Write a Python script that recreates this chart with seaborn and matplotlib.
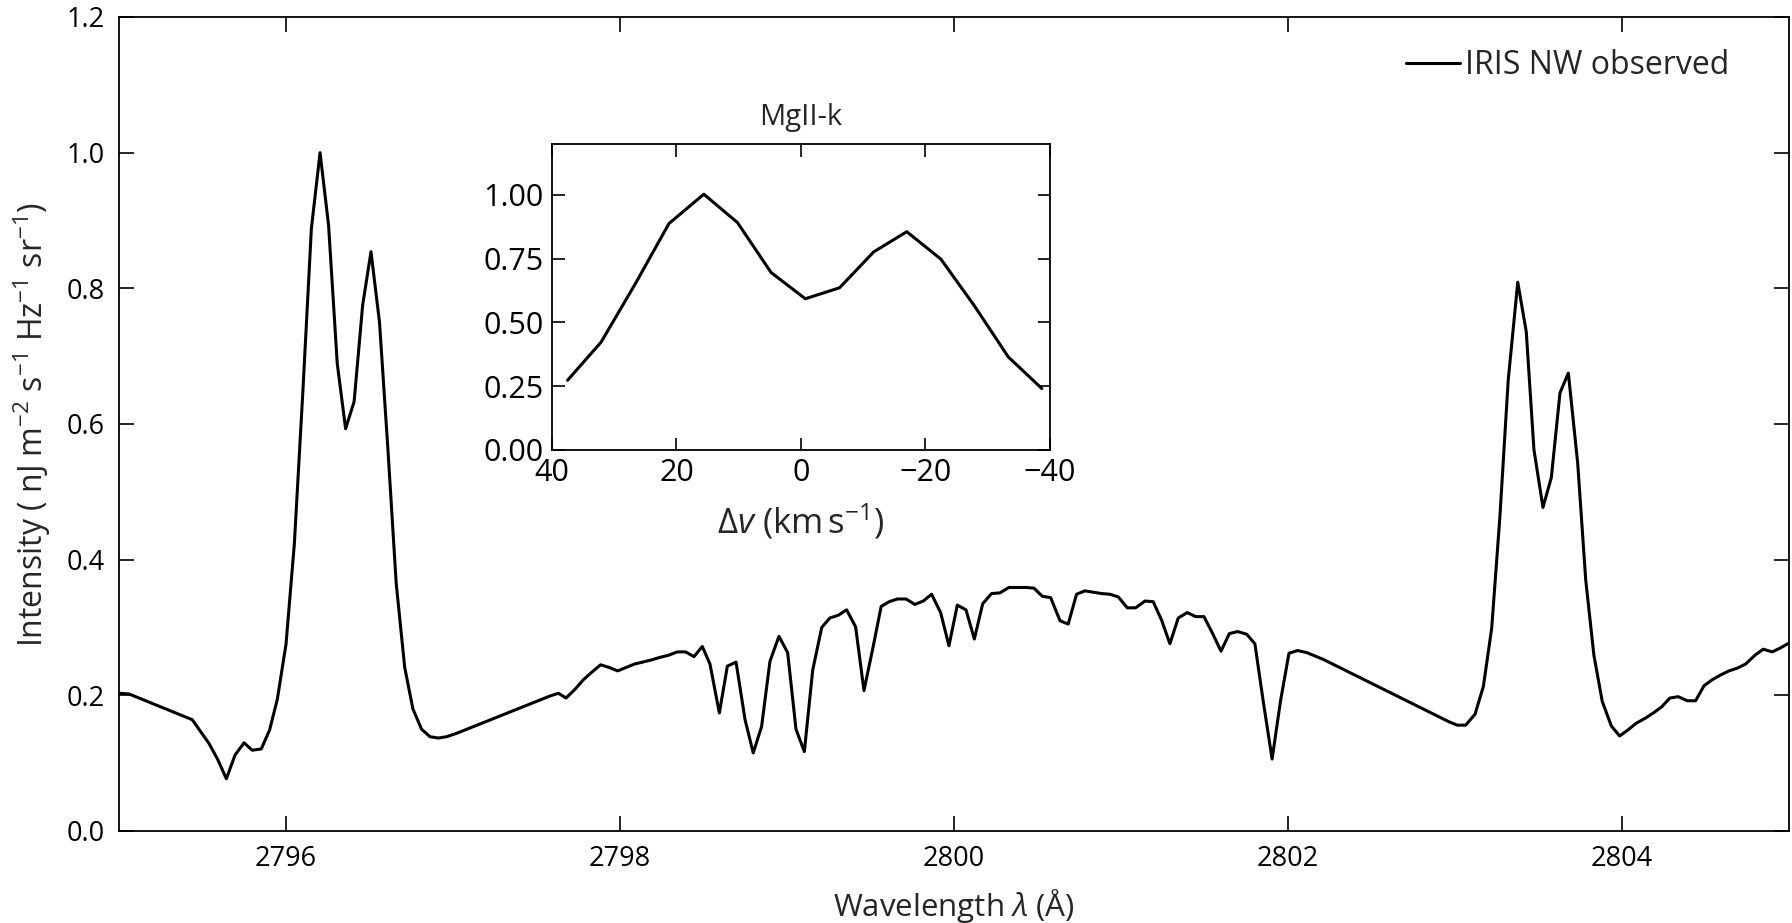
import numpy as np
import pandas as pd
import matplotlib
matplotlib.use("Agg")
import matplotlib.pyplot as plt
import seaborn as sns

# ---- main spectrum (wavelength in Angstrom, intensity) ----
wavelength = [
    2795.000, 2795.060, 2795.439, 2795.539, 2795.590, 2795.643, 2795.695, 2795.749,
    2795.798, 2795.852, 2795.902, 2795.948, 2796.000, 2796.050, 2796.102, 2796.152,
    2796.204, 2796.255, 2796.307, 2796.357, 2796.408, 2796.459, 2796.509, 2796.560,
    2796.610, 2796.660, 2796.711, 2796.760, 2796.812, 2796.862, 2796.912, 2796.962,
    2797.022, 2797.581, 2797.631, 2797.677, 2797.731, 2797.781, 2797.831, 2797.884,
    2797.936, 2797.986, 2798.036, 2798.086, 2798.136, 2798.186, 2798.240, 2798.290,
    2798.343, 2798.393, 2798.443, 2798.493, 2798.539, 2798.595, 2798.643, 2798.695,
    2798.749, 2798.798, 2798.848, 2798.898, 2798.952, 2799.004, 2799.054, 2799.104,
    2799.154, 2799.208, 2799.257, 2799.307, 2799.357, 2799.411, 2799.461, 2799.513,
    2799.564, 2799.612, 2799.661, 2799.713, 2799.766, 2799.816, 2799.866, 2799.920,
    2799.970, 2800.020, 2800.072, 2800.122, 2800.172, 2800.225, 2800.275, 2800.329,
    2800.379, 2800.431, 2800.479, 2800.529, 2800.579, 2800.635, 2800.684, 2800.734,
    2800.784, 2800.834, 2800.884, 2800.934, 2800.984, 2801.038, 2801.088, 2801.144,
    2801.193, 2801.243, 2801.293, 2801.343, 2801.397, 2801.447, 2801.497, 2801.549,
    2801.599, 2801.649, 2801.699, 2801.753, 2801.802, 2801.852, 2801.905, 2801.955,
    2802.006, 2802.058, 2802.112, 2802.162, 2802.211, 2802.964, 2803.014, 2803.064,
    2803.120, 2803.170, 2803.220, 2803.269, 2803.319, 2803.376, 2803.427, 2803.473,
    2803.527, 2803.577, 2803.629, 2803.679, 2803.735, 2803.783, 2803.832, 2803.882,
    2803.936, 2803.986, 2804.036, 2804.086, 2804.138, 2804.188, 2804.238, 2804.287,
    2804.337, 2804.391, 2804.441, 2804.491, 2804.541, 2804.591, 2804.641, 2804.690,
    2804.740, 2804.796, 2804.846, 2804.900, 2804.950, 2805.000,
]
intensity = [
    0.203, 0.202, 0.164, 0.129, 0.106, 0.077, 0.112, 0.130,
    0.119, 0.121, 0.149, 0.194, 0.275, 0.423, 0.652, 0.888,
    1.000, 0.893, 0.689, 0.593, 0.633, 0.775, 0.854, 0.750,
    0.564, 0.365, 0.241, 0.180, 0.150, 0.139, 0.137, 0.139,
    0.144, 0.199, 0.203, 0.196, 0.209, 0.223, 0.234, 0.245,
    0.241, 0.236, 0.241, 0.246, 0.249, 0.252, 0.256, 0.259,
    0.264, 0.264, 0.257, 0.272, 0.246, 0.174, 0.243, 0.249,
    0.164, 0.115, 0.154, 0.250, 0.287, 0.263, 0.150, 0.117,
    0.237, 0.300, 0.314, 0.318, 0.326, 0.301, 0.207, 0.268,
    0.331, 0.338, 0.342, 0.342, 0.334, 0.339, 0.349, 0.322,
    0.273, 0.333, 0.326, 0.283, 0.335, 0.350, 0.351, 0.359,
    0.359, 0.359, 0.358, 0.346, 0.344, 0.310, 0.305, 0.349,
    0.354, 0.352, 0.350, 0.349, 0.345, 0.329, 0.329, 0.339,
    0.338, 0.311, 0.276, 0.314, 0.322, 0.316, 0.316, 0.291,
    0.265, 0.291, 0.294, 0.290, 0.276, 0.191, 0.106, 0.191,
    0.262, 0.266, 0.263, 0.258, 0.253, 0.161, 0.156, 0.156,
    0.172, 0.213, 0.299, 0.463, 0.665, 0.809, 0.736, 0.562,
    0.477, 0.521, 0.646, 0.675, 0.542, 0.370, 0.259, 0.191,
    0.155, 0.140, 0.149, 0.159, 0.166, 0.174, 0.183, 0.196,
    0.198, 0.192, 0.192, 0.214, 0.223, 0.230, 0.236, 0.240,
    0.246, 0.259, 0.268, 0.264, 0.270, 0.277,
]

# ---- inset: Mg II k profile in velocity space ----
inset_dv = [37.5, 32.1, 26.6, 21.2, 15.6, 10.2, 4.8, -0.7, -6.2, -11.7,
            -17.0, -22.5, -27.9, -33.3, -38.7]
inset_norm = [0.273, 0.423, 0.652, 0.888, 1.003, 0.892, 0.696, 0.593, 0.636,
              0.777, 0.856, 0.748, 0.564, 0.365, 0.241]

main_xticks = [2796, 2798, 2800, 2802, 2804]
main_yticks = [0.0, 0.2, 0.4, 0.6, 0.8, 1.0, 1.2]
inset_xticks = [40, 20, 0, -20, -40]
inset_yticks = [0.0, 0.25, 0.5, 0.75, 1.0]

sns.set_theme(style="ticks")
plt.rcParams["font.family"] = ["Open Sans", "DejaVu Sans"]
plt.rcParams["mathtext.fontset"] = "custom"
plt.rcParams["mathtext.rm"] = "Open Sans"
plt.rcParams["mathtext.it"] = "Open Sans:italic"
plt.rcParams["mathtext.bf"] = "Open Sans:bold"
plt.rcParams["axes.unicode_minus"] = True

fig = plt.figure(figsize=(17.92, 9.23), dpi=100)
ax = fig.add_axes([0.0664, 0.0997, 0.9319, 0.8819])

df = pd.DataFrame({"wl": wavelength, "I": intensity})
sns.lineplot(data=df, x="wl", y="I", ax=ax, color="black", lw=2.2,
             estimator=None, sort=False, label="IRIS NW observed")
ax.set_xlim(2795, 2805)
ax.set_ylim(0, 1.2)
ax.set_xticks(main_xticks)
ax.set_yticks(main_yticks)
ax.set_yticklabels([f"{v:.1f}" for v in main_yticks])
ax.tick_params(direction="in", length=11, width=1.2, top=True, right=True,
               labelsize=19.5, pad=10, colors="black")
for s in ax.spines.values():
    s.set_linewidth(1.3)
    s.set_color("black")
ax.set_xlabel(r"Wavelength $\lambda$ (Å)", fontsize=22.5, labelpad=10)
ax.set_ylabel(r"Intensity ( nJ m$^{-2}$ s$^{-1}$ Hz$^{-1}$ sr$^{-1}$)",
              fontsize=23, labelpad=10)
leg = ax.legend(loc="upper right", bbox_to_anchor=(0.972, 0.976),
                borderaxespad=0, frameon=False, fontsize=23,
                handlelength=1.7, handletextpad=0.15)

# inset
axi = fig.add_axes([0.308, 0.5125, 0.2779, 0.3315])
dfi = pd.DataFrame({"dv": inset_dv, "n": inset_norm})
sns.lineplot(data=dfi, x="dv", y="n", ax=axi, color="black", lw=2.2,
             estimator=None, sort=False)
axi.set_xlim(40, -40)
axi.set_ylim(0, 1.2)
axi.set_xticks(inset_xticks)
axi.set_yticks(inset_yticks)
axi.set_yticklabels([f"{v:.2f}" for v in inset_yticks])
axi.tick_params(direction="in", length=9, width=1.2, top=True, right=True,
                labelsize=22, pad=6, colors="black")
for s in axi.spines.values():
    s.set_linewidth(1.3)
    s.set_color("black")
axi.set_title("MgII-k", fontsize=21, pad=14)
axi.set_xlabel(r"$\Delta v$ (km$\,$s$^{-1}$)", fontsize=25, labelpad=10)
axi.set_ylabel("")

fig.savefig("out.png", dpi=100)
